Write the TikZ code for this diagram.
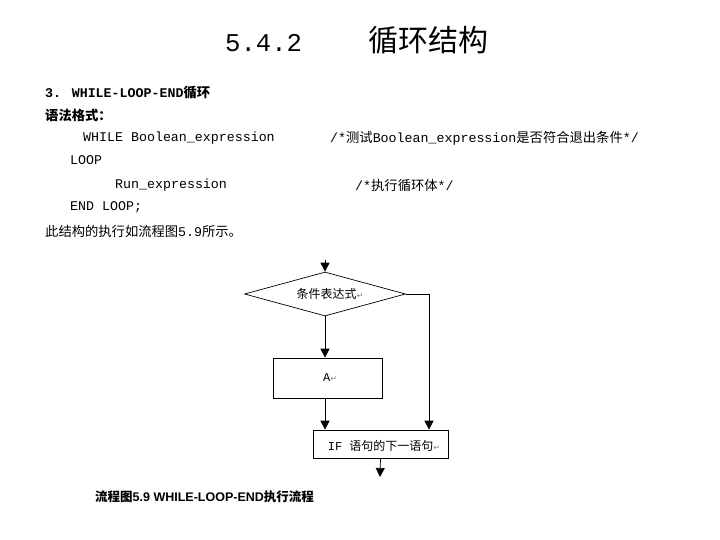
\documentclass[tikz,border=0pt]{standalone}
\usepackage{fontspec}
\setmainfont{Liberation Mono}
\newfontfamily\cjk{Noto Sans CJK SC}
\newfontfamily\djvfont{DejaVu Sans}
\newfontfamily\lsansfont{Liberation Sans}
\usetikzlibrary{shapes.geometric,arrows.meta}
\newcommand{\retsym}{{\djvfont\color{gray}\footnotesize ↵}}
\begin{document}
\begin{tikzpicture}[x=1pt,y=-1pt,
  txt/.style={anchor=west,inner sep=0pt,font=\fontsize{13.3}{15}\selectfont},
  arr/.style={-{Triangle[length=9pt,width=9pt]},line width=0.7pt}]
\useasboundingbox (0,0) rectangle (720,540);
\node[inner sep=0pt,anchor=west] (title) at (225,40) {\fontsize{25.6}{30}\selectfont 5.4.2\hspace{66pt}{\cjk\fontsize{30}{34}\selectfont 循环结构}};
\node[txt,font=\fontsize{13.3}{15}\selectfont\bfseries] (h1) at (45,93) {3. WHILE-LOOP-END{\cjk 循环}};
\node[txt,font=\fontsize{13.3}{15}\selectfont\bfseries\cjk] (h2) at (45,115) {语法格式：};
\node[txt] (l1) at (83,138) {WHILE Boolean\_expression};
\node[txt] (c1) at (330,138) {/*{\cjk 测试}Boolean\_expression{\cjk 是否符合退出条件}*/};
\node[txt] (l2) at (70,160) {LOOP};
\node[txt] (l3) at (115,185) {Run\_expression};
\node[txt] (c2) at (355,185) {/*{\cjk 执行循环体}*/};
\node[txt] (l4) at (70,207) {END LOOP;};
\node[txt] (l5) at (45,231) {{\cjk 此结构的执行如流程图}5.9{\cjk 所示。}};
% flowchart
\coordinate (top) at (325,260);
\node[diamond,draw,line width=0.7pt,minimum width=161pt,minimum height=44pt,aspect=3.6,inner sep=0pt] (d) at (325,294) {};
\node[font=\fontsize{12}{14}\selectfont\cjk] (dt) at (330,294) {条件表达式\retsym};
\node[draw,line width=0.7pt,minimum width=109pt,minimum height=40pt,inner sep=0pt] (a) at (327.5,378) {};
\node (at) at (330,378) {\fontsize{12}{14}\selectfont A\retsym};
\node[draw,line width=0.7pt,minimum width=135pt,minimum height=28pt,inner sep=0pt] (b) at (380.5,444) {};
\node[font=\fontsize{12}{14}\selectfont] (bt) at (384,446) {IF {\cjk 语句的下一语句}\retsym};
\coordinate (corner) at (429,294);
\coordinate (bend) at (380,477);
\draw[arr] (top) -- (d.north);
\draw[arr] (d.south) -- (d.south |- a.north);
\draw[arr] (d.south |- a.south) -- (d.south |- b.north);
\draw[arr] (d.east) -- (corner) -- (corner |- b.north);
\draw[arr] (b.south) -- (bend);
\node[txt,font=\fontsize{12.5}{15}\selectfont\bfseries] (cap) at (95,497) {{\cjk 流程图}{\lsansfont 5.9 WHILE-LOOP-END}{\cjk 执行流程}};
\end{tikzpicture}
\end{document}
